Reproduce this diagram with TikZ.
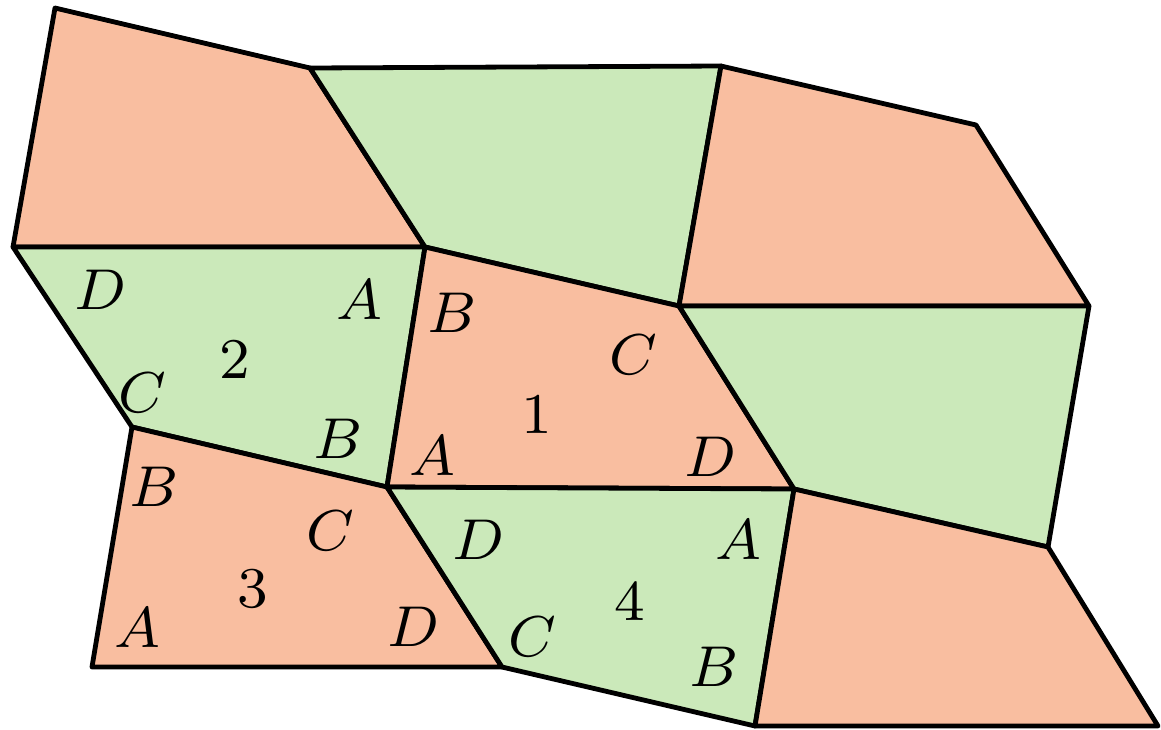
\RequirePackage{fix-cm}
\documentclass[tikz,border=0pt]{standalone}
\usepackage{graphicx}
\definecolor{salmon}{RGB}{249,190,160}
\definecolor{mint}{RGB}{203,233,186}
\newcommand{\biglbl}[1]{\scalebox{7.2}{$#1$}}
\begin{document}
\begin{tikzpicture}[x=1pt,y=-1pt,
  tile/.style={draw=black,line width=4.8pt,line join=round},
  org/.style={tile,fill=salmon},
  grn/.style={tile,fill=mint},
  lbl/.style={inner sep=0pt,font=\fontsize{8}{9}\selectfont}]
\useasboundingbox (0,0) rectangle (1161,729);
\coordinate (P1) at (55,8);
\coordinate (P2) at (310,68);
\coordinate (P3) at (721,66);
\coordinate (P4) at (976,125);
\coordinate (P5) at (13,247);
\coordinate (P6) at (425,247);
\coordinate (P7) at (679,306);
\coordinate (P8) at (1089,306);
\coordinate (P9) at (132,427);
\coordinate (P10) at (387,487);
\coordinate (P11) at (794,489);
\coordinate (P12) at (1048,547);
\coordinate (P13) at (92,667);
\coordinate (P14) at (502,667);
\coordinate (P15) at (755,726);
\coordinate (P16) at (1158,726);
% tiles
\draw[org] (P1) -- (P2) -- (P6) -- (P5) -- cycle;
\draw[grn] (P2) -- (P3) -- (P7) -- (P6) -- cycle;
\draw[org] (P3) -- (P4) -- (P8) -- (P7) -- cycle;
\draw[grn] (P5) -- (P6) -- (P10) -- (P9) -- cycle;
\draw[org] (P6) -- (P7) -- (P11) -- (P10) -- cycle;
\draw[grn] (P7) -- (P8) -- (P12) -- (P11) -- cycle;
\draw[org] (P9) -- (P10) -- (P14) -- (P13) -- cycle;
\draw[grn] (P10) -- (P11) -- (P15) -- (P14) -- cycle;
\draw[org] (P11) -- (P12) -- (P16) -- (P15) -- cycle;
% labels tile 2
\node[lbl] (d2) at (100,290) {\biglbl{D}};
\node[lbl] (a2) at (359,300) {\biglbl{A}};
\node[lbl] (n2) at (235,360) {\biglbl{2}};
\node[lbl] (c2) at (142,393) {\biglbl{C}};
\node[lbl] (b2) at (338,439) {\biglbl{B}};
% tile 1
\node[lbl] (b1) at (452,313) {\biglbl{B}};
\node[lbl] (c1) at (633,355) {\biglbl{C}};
\node[lbl] (n1) at (537,415) {\biglbl{1}};
\node[lbl] (a1) at (432,456) {\biglbl{A}};
\node[lbl] (d1) at (710,457) {\biglbl{D}};
% tile 3
\node[lbl] (b3) at (154,487) {\biglbl{B}};
\node[lbl] (c3) at (330,531) {\biglbl{C}};
\node[lbl] (n3) at (253,589) {\biglbl{3}};
\node[lbl] (a3) at (137,628) {\biglbl{A}};
\node[lbl] (d3) at (413,627) {\biglbl{D}};
% tile 4
\node[lbl] (d4) at (478,540) {\biglbl{D}};
\node[lbl] (a4) at (738,540) {\biglbl{A}};
\node[lbl] (n4) at (630,602) {\biglbl{4}};
\node[lbl] (c4) at (532,637) {\biglbl{C}};
\node[lbl] (b4) at (714,667) {\biglbl{B}};
\end{tikzpicture}
\end{document}
